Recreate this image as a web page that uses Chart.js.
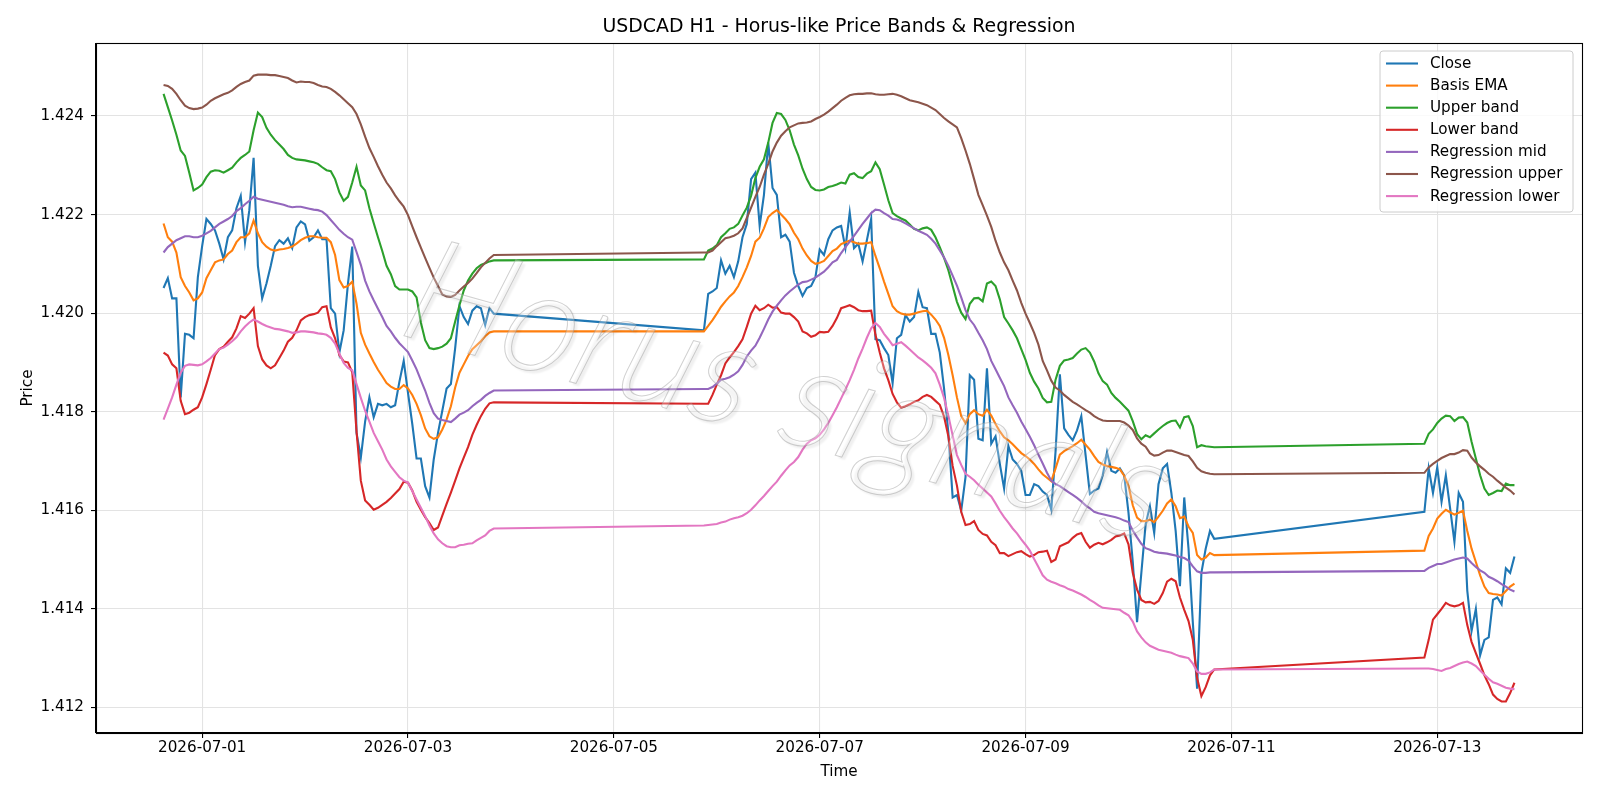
<!DOCTYPE html>
<html>
<head>
<meta charset="utf-8">
<script src="https://cdn.jsdelivr.net/npm/chart.js@4.4.1/dist/chart.umd.min.js"></script>
<style>
  html, body { margin: 0; padding: 0; background: #ffffff; }
  #wrap { width: 1600px; height: 800px; }
</style>
</head>
<body>
<div id="wrap"><canvas id="chart" width="1600" height="800"></canvas></div>
<script>
// ---------------- DATA ----------------
// Hourly bars (H1). Hours counted from 2026-06-30 00:00; weekends have no bars.
const segStartHours = [15, 141, 309];
const segLengths = [78, 120, 22];

const xTickHours = [24, 72, 120, 168, 216, 264, 312];
const xTickLabels = ['2026-07-01', '2026-07-03', '2026-07-05', '2026-07-07', '2026-07-09', '2026-07-11', '2026-07-13'];
const yTickValues = [1.412, 1.414, 1.416, 1.418, 1.420, 1.422, 1.424];

const closeValues = [
  1.42051,1.42071,1.42030,1.42030,1.41829,1.41958,1.41956,1.41949,1.42073,1.42136,
  1.42191,1.42181,1.42168,1.42141,1.42109,1.42154,1.42168,1.42213,1.42238,1.42144,
  1.42209,1.42315,1.42096,1.42030,1.42060,1.42096,1.42136,1.42148,1.42141,1.42152,
  1.42132,1.42174,1.42186,1.42180,1.42147,1.42154,1.42168,1.42150,1.42150,1.42010,
  1.41999,1.41920,1.41965,1.42060,1.42135,1.41757,1.41707,1.41780,1.41829,1.41789,
  1.41816,1.41813,1.41816,1.41809,1.41813,1.41861,1.41903,1.41838,1.41775,1.41705,
  1.41705,1.41649,1.41626,1.41703,1.41757,1.41802,1.41847,1.41856,1.41929,1.42014,
  1.41992,1.41978,1.42005,1.42014,1.42010,1.41976,1.42010,1.41999,
  1.41965,1.42039,1.42044,1.42051,1.42107,1.42080,1.42096,1.42073,1.42105,1.42154,
  1.42181,1.42272,1.42285,1.42177,1.42240,1.42346,1.42254,1.42240,1.42154,1.42159,
  1.42145,1.42082,1.42055,1.42035,1.42051,1.42055,1.42073,1.42129,1.42118,1.42150,
  1.42168,1.42174,1.42177,1.42132,1.42204,1.42132,1.42141,1.42105,1.42148,1.42191,
  1.41947,1.41945,1.41929,1.41915,1.41858,1.41949,1.41956,1.41996,1.41983,1.41992,
  1.42043,1.42012,1.42010,1.41958,1.41958,1.41920,1.41847,1.41757,1.41626,1.41631,
  1.41599,1.41667,1.41874,1.41865,1.41745,1.41742,1.41888,1.41735,1.41750,1.41694,
  1.41644,1.41730,1.41703,1.41694,1.41680,1.41631,1.41631,1.41653,1.41649,1.41638,
  1.41631,1.41601,1.41720,1.41876,1.41766,1.41753,1.41742,1.41762,1.41791,1.41712,
  1.41633,1.41640,1.41644,1.41671,1.41718,1.41680,1.41676,1.41685,1.41671,1.41595,
  1.41495,1.41373,1.41473,1.41572,1.41608,1.41554,1.41653,1.41685,1.41694,1.41635,
  1.41558,1.41446,1.41626,1.41522,1.41373,1.41238,1.41473,1.41522,1.41558,1.41542,
  1.41597,1.41685,1.41635,1.41687,1.41617,1.41671,1.41604,1.41536,1.41635,1.41617,
  1.41437,1.41355,1.41400,1.41306,1.41337,1.41342,1.41418,1.41423,1.41409,1.41482,
  1.41473,1.41506
];

const basisEmaValues = [
  1.42182,1.42154,1.42145,1.42123,1.42073,1.42055,1.42042,1.42026,1.42030,1.42042,
  1.42071,1.42087,1.42103,1.42107,1.42109,1.42120,1.42127,1.42144,1.42154,1.42154,
  1.42162,1.42188,1.42162,1.42144,1.42135,1.42129,1.42127,1.42129,1.42130,1.42132,
  1.42135,1.42141,1.42148,1.42153,1.42156,1.42156,1.42154,1.42153,1.42153,1.42144,
  1.42118,1.42067,1.42052,1.42055,1.42064,1.42019,1.41960,1.41936,1.41918,1.41901,
  1.41885,1.41872,1.41858,1.41851,1.41846,1.41846,1.41854,1.41847,1.41834,1.41816,
  1.41793,1.41766,1.41750,1.41745,1.41748,1.41764,1.41784,1.41811,1.41849,1.41879,
  1.41896,1.41913,1.41927,1.41935,1.41943,1.41953,1.41961,1.41963,
  1.41963,1.41974,1.41986,1.41999,1.42013,1.42024,1.42034,1.42042,1.42055,1.42073,
  1.42093,1.42116,1.42145,1.42153,1.42172,1.42195,1.42203,1.42209,1.42200,1.42191,
  1.42180,1.42163,1.42150,1.42131,1.42117,1.42106,1.42100,1.42102,1.42106,1.42116,
  1.42126,1.42131,1.42140,1.42144,1.42147,1.42144,1.42141,1.42141,1.42142,1.42144,
  1.42116,1.42091,1.42064,1.42039,1.42014,1.42004,1.41999,1.41997,1.41997,1.41999,
  1.42002,1.42004,1.42005,1.41997,1.41987,1.41974,1.41950,1.41915,1.41874,1.41829,
  1.41791,1.41777,1.41795,1.41803,1.41795,1.41792,1.41804,1.41792,1.41775,1.41760,
  1.41748,1.41742,1.41734,1.41725,1.41716,1.41710,1.41703,1.41694,1.41683,1.41673,
  1.41666,1.41659,1.41685,1.41713,1.41720,1.41725,1.41730,1.41736,1.41743,1.41733,
  1.41723,1.41710,1.41698,1.41693,1.41690,1.41688,1.41686,1.41683,1.41670,1.41650,
  1.41610,1.41585,1.41578,1.41578,1.41581,1.41576,1.41587,1.41599,1.41614,1.41622,
  1.41608,1.41584,1.41587,1.41567,1.41554,1.41509,1.41500,1.41504,1.41513,1.41509,
  1.41518,1.41548,1.41563,1.41583,1.41593,1.41601,1.41596,1.41591,1.41595,1.41599,
  1.41558,1.41522,1.41495,1.41468,1.41445,1.41432,1.41430,1.41429,1.41427,1.41436,
  1.41445,1.41451
];

const upperBandValues = [
  1.42445,1.42418,1.42391,1.42362,1.42330,1.42319,1.42285,1.42249,1.42254,1.42261,
  1.42276,1.42287,1.42290,1.42289,1.42285,1.42290,1.42295,1.42306,1.42315,1.42321,
  1.42328,1.42371,1.42407,1.42398,1.42376,1.42362,1.42351,1.42342,1.42333,1.42321,
  1.42315,1.42312,1.42311,1.42310,1.42308,1.42306,1.42303,1.42296,1.42290,1.42288,
  1.42272,1.42245,1.42228,1.42236,1.42265,1.42297,1.42259,1.42249,1.42213,1.42183,
  1.42154,1.42126,1.42096,1.42079,1.42055,1.42048,1.42048,1.42048,1.42044,1.42032,
  1.41981,1.41945,1.41929,1.41927,1.41929,1.41932,1.41938,1.41949,1.41983,1.42016,
  1.42046,1.42066,1.42080,1.42091,1.42098,1.42101,1.42105,1.42107,
  1.42109,1.42127,1.42131,1.42138,1.42154,1.42162,1.42171,1.42174,1.42181,1.42198,
  1.42214,1.42238,1.42274,1.42297,1.42312,1.42346,1.42386,1.42406,1.42404,1.42392,
  1.42371,1.42342,1.42320,1.42293,1.42272,1.42256,1.42250,1.42249,1.42251,1.42256,
  1.42258,1.42261,1.42265,1.42263,1.42281,1.42284,1.42276,1.42274,1.42283,1.42288,
  1.42306,1.42292,1.42261,1.42229,1.42203,1.42197,1.42192,1.42188,1.42180,1.42171,
  1.42168,1.42172,1.42174,1.42169,1.42154,1.42134,1.42112,1.42087,1.42055,1.42023,
  1.42001,1.41988,1.42019,1.42030,1.42031,1.42024,1.42060,1.42064,1.42055,1.42028,
  1.41992,1.41979,1.41965,1.41949,1.41927,1.41905,1.41879,1.41861,1.41847,1.41828,
  1.41819,1.41820,1.41865,1.41893,1.41904,1.41906,1.41909,1.41918,1.41926,1.41929,
  1.41920,1.41902,1.41878,1.41862,1.41855,1.41838,1.41828,1.41820,1.41811,1.41802,
  1.41781,1.41755,1.41744,1.41752,1.41748,1.41756,1.41764,1.41771,1.41777,1.41781,
  1.41782,1.41768,1.41789,1.41791,1.41771,1.41728,1.41732,1.41730,1.41729,1.41728,
  1.41735,1.41755,1.41764,1.41777,1.41786,1.41792,1.41791,1.41781,1.41788,1.41789,
  1.41778,1.41739,1.41705,1.41671,1.41644,1.41631,1.41635,1.41640,1.41639,1.41654,
  1.41651,1.41651
];

const lowerBandValues = [
  1.41920,1.41914,1.41896,1.41888,1.41822,1.41795,1.41798,1.41804,1.41809,1.41829,
  1.41856,1.41885,1.41915,1.41927,1.41932,1.41942,1.41951,1.41969,1.41994,1.41990,
  1.41999,1.42010,1.41933,1.41906,1.41894,1.41888,1.41894,1.41909,1.41924,1.41942,
  1.41950,1.41965,1.41985,1.41992,1.41996,1.41998,1.42001,1.42012,1.42014,1.41971,
  1.41949,1.41915,1.41902,1.41900,1.41880,1.41760,1.41660,1.41620,1.41611,1.41601,
  1.41605,1.41611,1.41617,1.41625,1.41634,1.41643,1.41658,1.41656,1.41640,1.41617,
  1.41601,1.41586,1.41574,1.41560,1.41565,1.41589,1.41613,1.41636,1.41660,1.41685,
  1.41707,1.41728,1.41753,1.41773,1.41791,1.41806,1.41817,1.41819,
  1.41816,1.41816,1.41834,1.41855,1.41874,1.41898,1.41910,1.41921,1.41933,1.41947,
  1.41972,1.41999,1.42015,1.42006,1.42010,1.42017,1.42011,1.42012,1.42001,1.41999,
  1.41999,1.41992,1.41983,1.41963,1.41959,1.41952,1.41955,1.41962,1.41961,1.41962,
  1.41974,1.41990,1.42010,1.42013,1.42016,1.42012,1.42006,1.42004,1.42004,1.42005,
  1.41956,1.41920,1.41888,1.41864,1.41836,1.41819,1.41808,1.41811,1.41815,1.41820,
  1.41823,1.41830,1.41834,1.41830,1.41822,1.41814,1.41790,1.41750,1.41690,1.41650,
  1.41597,1.41570,1.41572,1.41578,1.41560,1.41552,1.41549,1.41536,1.41529,1.41513,
  1.41513,1.41507,1.41511,1.41515,1.41517,1.41511,1.41506,1.41509,1.41515,1.41516,
  1.41518,1.41495,1.41500,1.41527,1.41531,1.41535,1.41544,1.41551,1.41554,1.41536,
  1.41524,1.41530,1.41534,1.41531,1.41535,1.41540,1.41547,1.41549,1.41553,1.41531,
  1.41473,1.41439,1.41418,1.41413,1.41414,1.41410,1.41416,1.41432,1.41455,1.41461,
  1.41456,1.41423,1.41398,1.41375,1.41337,1.41260,1.41223,1.41241,1.41265,1.41277,
  1.41301,1.41337,1.41378,1.41389,1.41400,1.41412,1.41407,1.41405,1.41407,1.41412,
  1.41367,1.41333,1.41310,1.41288,1.41265,1.41247,1.41226,1.41217,1.41212,1.41212,
  1.41229,1.41250
];

const regMidValues = [
  1.42123,1.42134,1.42141,1.42148,1.42152,1.42156,1.42156,1.42154,1.42154,1.42157,
  1.42162,1.42167,1.42174,1.42181,1.42186,1.42191,1.42197,1.42207,1.42213,1.42221,
  1.42228,1.42236,1.42232,1.42230,1.42228,1.42226,1.42224,1.42222,1.42220,1.42217,
  1.42215,1.42216,1.42216,1.42214,1.42212,1.42210,1.42209,1.42206,1.42199,1.42189,
  1.42179,1.42169,1.42161,1.42154,1.42149,1.42124,1.42098,1.42066,1.42044,1.42026,
  1.42009,1.41992,1.41974,1.41963,1.41950,1.41939,1.41930,1.41921,1.41904,1.41886,
  1.41864,1.41843,1.41818,1.41797,1.41786,1.41783,1.41781,1.41779,1.41786,1.41794,
  1.41798,1.41803,1.41811,1.41818,1.41824,1.41832,1.41838,1.41843,
  1.41846,1.41846,1.41850,1.41857,1.41865,1.41867,1.41870,1.41875,1.41882,1.41895,
  1.41912,1.41924,1.41934,1.41950,1.41968,1.41987,1.42003,1.42015,1.42026,1.42036,
  1.42044,1.42051,1.42058,1.42063,1.42064,1.42068,1.42072,1.42078,1.42084,1.42093,
  1.42103,1.42108,1.42122,1.42134,1.42145,1.42157,1.42169,1.42181,1.42192,1.42203,
  1.42210,1.42209,1.42203,1.42198,1.42191,1.42190,1.42187,1.42182,1.42177,1.42172,
  1.42167,1.42163,1.42159,1.42151,1.42141,1.42127,1.42113,1.42096,1.42076,1.42056,
  1.42032,1.42006,1.41987,1.41976,1.41960,1.41945,1.41927,1.41903,1.41886,1.41869,
  1.41852,1.41829,1.41813,1.41798,1.41780,1.41765,1.41749,1.41732,1.41713,1.41695,
  1.41676,1.41660,1.41653,1.41649,1.41643,1.41637,1.41631,1.41625,1.41618,1.41610,
  1.41604,1.41597,1.41594,1.41592,1.41590,1.41588,1.41586,1.41583,1.41579,1.41576,
  1.41559,1.41545,1.41532,1.41523,1.41520,1.41516,1.41514,1.41513,1.41512,1.41510,
  1.41508,1.41505,1.41503,1.41498,1.41486,1.41476,1.41473,1.41473,1.41474,1.41474,
  1.41477,1.41483,1.41487,1.41491,1.41491,1.41494,1.41497,1.41500,1.41502,1.41504,
  1.41502,1.41493,1.41485,1.41478,1.41473,1.41465,1.41461,1.41456,1.41450,1.41445,
  1.41439,1.41435
];

const regUpperValues = [
  1.42463,1.42461,1.42455,1.42445,1.42432,1.42421,1.42416,1.42414,1.42415,1.42417,
  1.42423,1.42431,1.42436,1.42440,1.42444,1.42447,1.42452,1.42459,1.42465,1.42469,
  1.42472,1.42482,1.42484,1.42484,1.42484,1.42483,1.42483,1.42481,1.42479,1.42477,
  1.42472,1.42468,1.42470,1.42469,1.42469,1.42467,1.42463,1.42460,1.42459,1.42455,
  1.42449,1.42442,1.42434,1.42426,1.42418,1.42404,1.42383,1.42358,1.42335,1.42317,
  1.42298,1.42281,1.42265,1.42253,1.42239,1.42227,1.42216,1.42199,1.42176,1.42154,
  1.42133,1.42112,1.42092,1.42072,1.42055,1.42038,1.42034,1.42033,1.42037,1.42046,
  1.42054,1.42061,1.42070,1.42081,1.42093,1.42102,1.42111,1.42118,
  1.42123,1.42123,1.42127,1.42136,1.42144,1.42152,1.42154,1.42157,1.42162,1.42172,
  1.42193,1.42214,1.42236,1.42256,1.42281,1.42303,1.42328,1.42346,1.42360,1.42369,
  1.42377,1.42381,1.42385,1.42386,1.42387,1.42389,1.42394,1.42398,1.42403,1.42409,
  1.42416,1.42423,1.42431,1.42437,1.42442,1.42444,1.42445,1.42445,1.42446,1.42446,
  1.42444,1.42443,1.42443,1.42444,1.42445,1.42443,1.42440,1.42436,1.42432,1.42430,
  1.42428,1.42425,1.42422,1.42417,1.42412,1.42404,1.42396,1.42389,1.42383,1.42377,
  1.42355,1.42330,1.42303,1.42272,1.42240,1.42219,1.42198,1.42175,1.42147,1.42123,
  1.42103,1.42087,1.42066,1.42046,1.42021,1.41999,1.41980,1.41960,1.41936,1.41903,
  1.41884,1.41863,1.41849,1.41843,1.41834,1.41827,1.41820,1.41815,1.41809,1.41803,
  1.41798,1.41791,1.41786,1.41782,1.41781,1.41781,1.41781,1.41781,1.41778,1.41772,
  1.41763,1.41746,1.41735,1.41729,1.41716,1.41711,1.41712,1.41717,1.41721,1.41721,
  1.41718,1.41715,1.41712,1.41710,1.41699,1.41686,1.41679,1.41676,1.41674,1.41673,
  1.41676,1.41687,1.41694,1.41700,1.41706,1.41710,1.41714,1.41714,1.41717,1.41722,
  1.41721,1.41707,1.41697,1.41689,1.41682,1.41674,1.41668,1.41660,1.41653,1.41646,
  1.41640,1.41632
];

const regLowerValues = [
  1.41784,1.41806,1.41829,1.41855,1.41879,1.41893,1.41896,1.41895,1.41894,1.41896,
  1.41902,1.41909,1.41918,1.41927,1.41930,1.41936,1.41943,1.41951,1.41963,1.41973,
  1.41981,1.41987,1.41983,1.41978,1.41974,1.41971,1.41968,1.41967,1.41965,1.41963,
  1.41960,1.41961,1.41963,1.41963,1.41962,1.41961,1.41959,1.41958,1.41956,1.41950,
  1.41938,1.41918,1.41899,1.41889,1.41884,1.41856,1.41828,1.41802,1.41780,1.41757,
  1.41740,1.41723,1.41703,1.41689,1.41678,1.41667,1.41660,1.41656,1.41639,1.41622,
  1.41605,1.41588,1.41569,1.41553,1.41541,1.41533,1.41527,1.41525,1.41525,1.41529,
  1.41530,1.41532,1.41533,1.41539,1.41544,1.41549,1.41558,1.41563,
  1.41569,1.41570,1.41571,1.41572,1.41575,1.41577,1.41581,1.41584,1.41586,1.41589,
  1.41594,1.41601,1.41610,1.41620,1.41629,1.41639,1.41649,1.41658,1.41670,1.41681,
  1.41691,1.41698,1.41708,1.41723,1.41735,1.41742,1.41746,1.41753,1.41764,1.41777,
  1.41793,1.41809,1.41827,1.41845,1.41864,1.41885,1.41908,1.41928,1.41950,1.41969,
  1.41980,1.41972,1.41958,1.41947,1.41935,1.41938,1.41941,1.41934,1.41926,1.41918,
  1.41910,1.41904,1.41897,1.41889,1.41878,1.41855,1.41828,1.41792,1.41752,1.41712,
  1.41692,1.41674,1.41668,1.41661,1.41652,1.41644,1.41636,1.41628,1.41614,1.41599,
  1.41586,1.41575,1.41563,1.41553,1.41541,1.41530,1.41518,1.41501,1.41485,1.41468,
  1.41459,1.41455,1.41452,1.41448,1.41445,1.41440,1.41437,1.41433,1.41429,1.41424,
  1.41418,1.41413,1.41407,1.41402,1.41401,1.41400,1.41399,1.41398,1.41392,1.41387,
  1.41374,1.41354,1.41342,1.41332,1.41325,1.41321,1.41317,1.41315,1.41313,1.41311,
  1.41307,1.41304,1.41302,1.41300,1.41289,1.41273,1.41268,1.41268,1.41271,1.41277,
  1.41279,1.41279,1.41278,1.41276,1.41274,1.41278,1.41280,1.41284,1.41288,1.41291,
  1.41293,1.41289,1.41284,1.41275,1.41266,1.41258,1.41251,1.41248,1.41244,1.41240,
  1.41238,1.41237
];

const seriesLabels = ['Close', 'Basis EMA', 'Upper band', 'Lower band', 'Regression mid', 'Regression upper', 'Regression lower'];
const seriesColors = ['#1f77b4', '#ff7f0e', '#2ca02c', '#d62728', '#9467bd', '#8c564b', '#e377c2'];
const chartTitle = 'USDCAD H1 - Horus-like Price Bands & Regression';
const watermarkText = 'Horus signals';

// ---------------- BUILD ----------------
const hours = [];
segStartHours.forEach((start, k) => {
  for (let i = 0; i < segLengths[k]; i++) hours.push(start + i);
});
const seriesValues = [closeValues, basisEmaValues, upperBandValues, lowerBandValues, regMidValues, regUpperValues, regLowerValues];
const toPoints = vals => vals.map((v, i) => ({ x: hours[i], y: v }));

const FONT = "'DejaVu Sans', 'Liberation Sans', sans-serif";
const TICK_SIZE = 15.2;
Chart.defaults.font.family = FONT;
Chart.defaults.color = '#000000';

const datasets = seriesLabels.map((label, i) => ({
  label,
  data: toPoints(seriesValues[i]),
  borderColor: seriesColors[i],
  backgroundColor: seriesColors[i],
  borderWidth: 2.1,
  pointRadius: 0,
  pointHoverRadius: 0,
  fill: false,
  tension: 0,
  order: seriesLabels.length - i
}));

// center the title over the plotting area (as matplotlib does)
const titleCenterPlugin = {
  id: 'titleCenter',
  afterLayout(chart) {
    const t = chart.titleBlock;
    if (t) {
      t.left = chart.chartArea.left;
      t.right = chart.chartArea.right;
      t.width = t.right - t.left;
    }
  }
};

const watermarkPlugin = {
  id: 'watermark',
  afterDatasetsDraw(chart) {
    const ctx = chart.ctx;
    ctx.save();
    ctx.translate(773, 438);
    ctx.rotate(15.5 * Math.PI / 180);
    ctx.transform(1, 0, -0.08, 1, 0, 0);
    ctx.font = "italic 300 146px Lato, 'DejaVu Sans', sans-serif";
    ctx.textAlign = 'center';
    ctx.textBaseline = 'alphabetic';
    ctx.shadowColor = 'rgba(0,0,0,0.22)';
    ctx.shadowOffsetX = 3;
    ctx.shadowOffsetY = 3;
    ctx.shadowBlur = 2;
    ctx.fillStyle = 'rgba(255,255,255,0.28)';
    ctx.fillText(watermarkText, 0, 0);
    ctx.shadowColor = 'rgba(0,0,0,0)';
    ctx.lineWidth = 1.0;
    ctx.strokeStyle = 'rgba(150,150,150,0.45)';
    ctx.strokeText(watermarkText, 0, 0);
    ctx.restore();
  }
};

const framePlugin = {
  id: 'frameAndLegend',
  afterDraw(chart) {
    const ctx = chart.ctx;
    const a = chart.chartArea;
    ctx.save();
    // spines
    ctx.strokeStyle = '#000';
    ctx.lineWidth = 1.1;
    ctx.strokeRect(Math.round(a.left) + 0.5, Math.round(a.top) + 0.5,
                   Math.round(a.right) - Math.round(a.left), Math.round(a.bottom) - Math.round(a.top));
    // legend (upper right)
    const bx = 1380, by = 51, bw = 193, bh = 161, r = 3;
    ctx.beginPath();
    ctx.moveTo(bx + r, by);
    ctx.lineTo(bx + bw - r, by);
    ctx.quadraticCurveTo(bx + bw, by, bx + bw, by + r);
    ctx.lineTo(bx + bw, by + bh - r);
    ctx.quadraticCurveTo(bx + bw, by + bh, bx + bw - r, by + bh);
    ctx.lineTo(bx + r, by + bh);
    ctx.quadraticCurveTo(bx, by + bh, bx, by + bh - r);
    ctx.lineTo(bx, by + r);
    ctx.quadraticCurveTo(bx, by, bx + r, by);
    ctx.closePath();
    ctx.fillStyle = 'rgba(255,255,255,0.8)';
    ctx.fill();
    ctx.strokeStyle = '#cccccc';
    ctx.lineWidth = 1;
    ctx.stroke();
    ctx.font = TICK_SIZE + 'px ' + FONT;
    ctx.textBaseline = 'middle';
    ctx.textAlign = 'left';
    chart.data.datasets.forEach((ds, i) => {
      const y = 63.5 + i * 22.1;
      ctx.strokeStyle = ds.borderColor;
      ctx.lineWidth = 2.1;
      ctx.beginPath();
      ctx.moveTo(1386, y);
      ctx.lineTo(1418, y);
      ctx.stroke();
      ctx.fillStyle = '#000';
      ctx.fillText(ds.label, 1430, y + 0.5);
    });
    ctx.restore();
  }
};

const gridColor = '#e3e3e3';

new Chart(document.getElementById('chart'), {
  type: 'line',
  data: { datasets },
  options: {
    responsive: false,
    animation: false,
    devicePixelRatio: 1,
    layout: { padding: { left: 0, right: 18, top: 0, bottom: 0 } },
    plugins: {
      legend: { display: false },
      tooltip: { enabled: false },
      title: {
        display: true,
        text: chartTitle,
        color: '#000',
        font: { size: 18.9, weight: 'normal', family: FONT },
        padding: { top: 16.0, bottom: 4.4 }
      }
    },
    scales: {
      x: {
        type: 'linear',
        min: -0.75,
        max: 345.75,
        afterBuildTicks: scale => { scale.ticks = xTickHours.map(v => ({ value: v })); },
        afterFit: scale => { scale.height = 67; },
        ticks: {
          autoSkip: false,
          maxRotation: 0,
          minRotation: 0,
          padding: 1.2,
          font: { size: TICK_SIZE },
          color: '#000',
          callback: v => { const k = xTickHours.indexOf(v); return k >= 0 ? xTickLabels[k] : ''; }
        },
        grid: { color: gridColor, lineWidth: 1.1, drawTicks: true, tickLength: 5, tickColor: '#000', tickWidth: 1.1 },
        border: { display: true, color: '#000', width: 1.1 },
        title: { display: true, text: 'Time', font: { size: TICK_SIZE }, color: '#000', padding: { top: 0, bottom: 19 } }
      },
      y: {
        type: 'linear',
        min: 1.41148,
        max: 1.42548,
        afterBuildTicks: scale => { scale.ticks = yTickValues.map(v => ({ value: v })); },
        afterFit: scale => { scale.width = 96; },
        ticks: {
          padding: 7,
          font: { size: TICK_SIZE },
          color: '#000',
          callback: v => Number(v).toFixed(3)
        },
        grid: { color: gridColor, lineWidth: 1.1, drawTicks: true, tickLength: 5, tickColor: '#000', tickWidth: 1.1 },
        border: { display: true, color: '#000', width: 1.1 },
        title: { display: true, text: 'Price', font: { size: TICK_SIZE }, color: '#000', padding: { top: 19, bottom: 0 } }
      }
    }
  },
  plugins: [titleCenterPlugin, watermarkPlugin, framePlugin]
});
</script>
</body>
</html>
